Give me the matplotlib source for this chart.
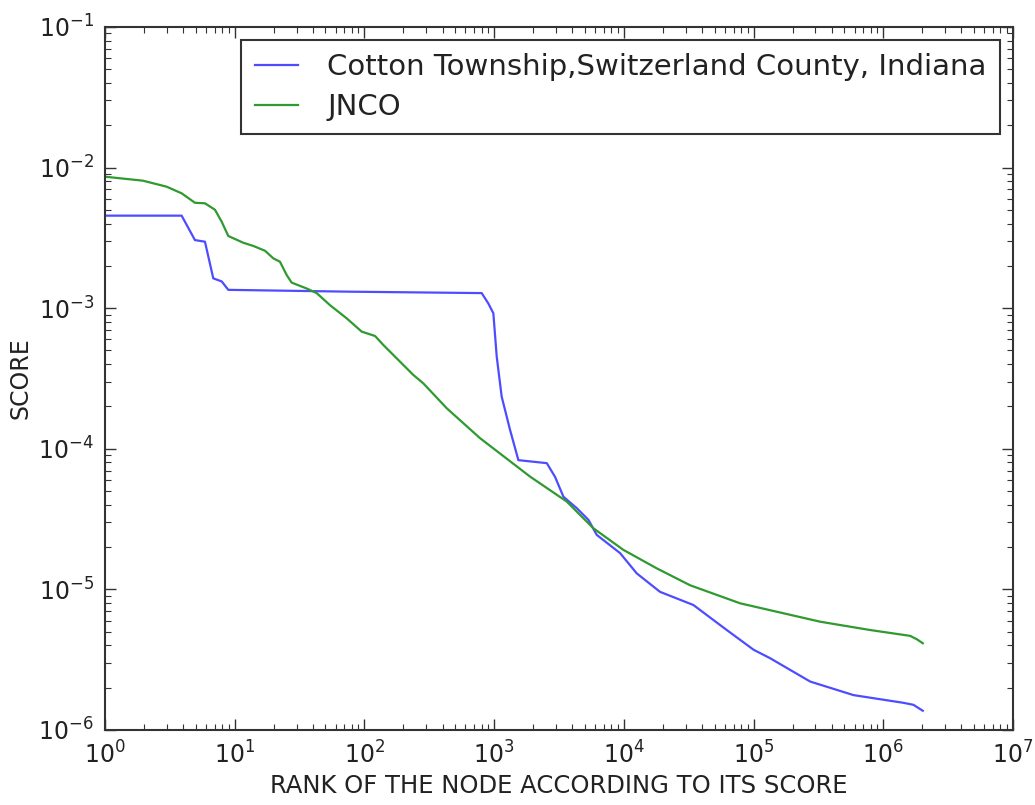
import numpy as np
import matplotlib
matplotlib.use('Agg')
import matplotlib.pyplot as plt

# blue series: Cotton Township
cotton_rank = [1, 3.9, 4.94, 5.9, 6.84, 7.94, 8.93, 77.4, 802, 902, 986,
               1047, 1143, 1327, 1538, 2547, 2951, 3420, 4335, 5333, 6180,
               9354, 12560, 19010, 34360, 62090, 100000, 133970, 272900,
               588800, 1429000, 1706000, 2014000]
cotton_score = [4.55e-3, 4.55e-3, 3.05e-3, 2.97e-3, 1.63e-3, 1.55e-3, 1.35e-3,
                1.31e-3, 1.28e-3, 1.08e-3, 9.2e-4, 4.52e-4, 2.35e-4, 1.36e-4,
                8.3e-5, 7.9e-5, 6.3e-5, 4.56e-5, 3.78e-5, 3.12e-5, 2.44e-5,
                1.81e-5, 1.30e-5, 9.6e-6, 7.74e-6, 5.14e-6, 3.72e-6, 3.24e-6,
                2.21e-6, 1.77e-6, 1.56e-6, 1.51e-6, 1.37e-6]

# green series: JNCO
jnco_rank = [1, 1.96, 2.99, 3.9, 4.94, 5.9, 7.05, 7.94, 8.93, 11.64, 13.93,
             17.14, 19.86, 22.34, 25.18, 27.48, 35.89, 42.85, 54.33, 72.95,
             95.3, 120.8, 140.0, 238.2, 284.4, 431.5, 778, 1892, 3631, 5821,
             9908, 17950, 32360, 78700, 134000, 325800, 790700, 1611000,
             1811000, 2014000]
jnco_score = [8.61e-3, 8.07e-3, 7.31e-3, 6.56e-3, 5.62e-3, 5.57e-3, 5.01e-3,
              4.12e-3, 3.26e-3, 2.92e-3, 2.77e-3, 2.56e-3, 2.26e-3, 2.14e-3,
              1.72e-3, 1.52e-3, 1.38e-3, 1.28e-3, 1.05e-3, 8.47e-4, 6.81e-4,
              6.34e-4, 5.47e-4, 3.35e-4, 2.92e-4, 1.94e-4, 1.19e-4, 6.34e-5,
              4.21e-5, 2.72e-5, 1.91e-5, 1.41e-5, 1.07e-5, 7.96e-6, 7.11e-6,
              5.89e-6, 5.14e-6, 4.67e-6, 4.42e-6, 4.14e-6]

fig = plt.figure(figsize=(10.35, 8.05), dpi=100)
ax = fig.add_axes([0.1014, 0.0932, 0.8774, 0.8733])

ax.loglog(cotton_rank, cotton_score, color='#4d4dff', lw=1.6,
          label='Cotton Township,Switzerland County, Indiana')
ax.loglog(jnco_rank, jnco_score, color='#2f9a2f', lw=1.6, label='JNCO')

ax.set_xlim(1, 1e7)
ax.set_ylim(1e-6, 1e-1)
ax.set_xlabel('RANK OF THE NODE ACCORDING TO ITS SCORE', fontsize=17.5,
              color='#222222')
ax.set_ylabel('SCORE', fontsize=17, color='#222222')

ax.tick_params(which='both', direction='in', top=True, right=True,
               labelsize=17, pad=8, color='#333333', labelcolor='#222222')
ax.tick_params(which='major', length=8, width=1)
ax.tick_params(which='minor', length=4, width=0.8)
for s in ax.spines.values():
    s.set_linewidth(1.5)
    s.set_color('#333333')

leg = ax.legend(loc='upper right', fontsize=21, fancybox=False,
                framealpha=1, edgecolor='#333333', handlelength=1.5,
                handletextpad=1.0, borderaxespad=0.45, borderpad=0.45,
                labelspacing=0.4)
leg.get_frame().set_linewidth(1.5)
for t in leg.get_texts():
    t.set_color('#222222')

fig.savefig('out.png', dpi=100)
